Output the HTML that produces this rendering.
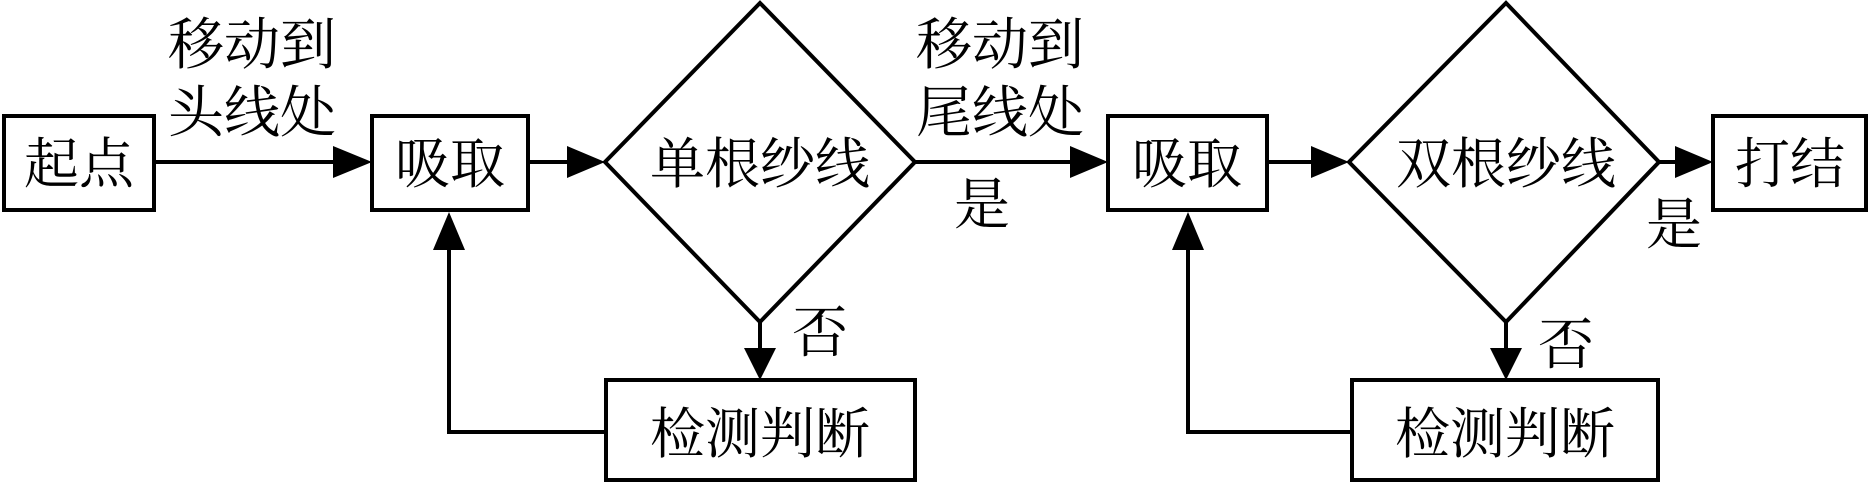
<!DOCTYPE html>
<html><head><meta charset="utf-8"><style>
body{margin:0;background:#fff;}
svg text{font-family:"Liberation Serif","Noto Serif CJK SC","Noto Sans CJK SC",serif;fill:#000;}
</style></head><body>
<svg width="1869" height="486" viewBox="0 0 1869 486" xmlns="http://www.w3.org/2000/svg">
<g fill="none" stroke="#000" stroke-width="4">
<rect x="4" y="116" width="150" height="94"/>
<rect x="372" y="116" width="156" height="94"/>
<polygon points="760,3 915,162 760,322 605,162"/>
<rect x="606" y="380" width="309" height="100"/>
<rect x="1108" y="116" width="159" height="94"/>
<polygon points="1506,3 1659,162 1506,322 1349,162"/>
<rect x="1713" y="116" width="153" height="94"/>
<rect x="1352" y="380" width="306" height="100"/>
<line x1="154" y1="162" x2="340" y2="162"/>
<line x1="528" y1="162" x2="575" y2="162"/>
<line x1="915" y1="162" x2="1078" y2="162"/>
<line x1="1267" y1="162" x2="1320" y2="162"/>
<line x1="1659" y1="162" x2="1684" y2="162"/>
<line x1="760" y1="322" x2="760" y2="350"/>
<line x1="1506" y1="322" x2="1506" y2="350"/>
<polyline points="606,432 449,432 449,245"/>
<polyline points="1352,432 1188,432 1188,245"/>
</g>
<g fill="#000">
<polygon points="333,146 372,162 333,178"/>
<polygon points="567,146 605,162 567,178"/>
<polygon points="1070,146 1108,162 1070,178"/>
<polygon points="1311,146 1349,162 1311,178"/>
<polygon points="1675,146 1713,162 1675,178"/>
<polygon points="744,348 760,380 776,348"/>
<polygon points="1490,348 1506,380 1522,348"/>
<polygon points="433,250 449,212 465,250"/>
<polygon points="1172,250 1188,212 1204,250"/>
</g>
<g font-size="55" text-anchor="middle">
<text x="79" y="183">起点</text>
<text x="450" y="183">吸取</text>
<text x="760" y="183">单根纱线</text>
<text x="760" y="453">检测判断</text>
<text x="1187" y="183">吸取</text>
<text x="1506" y="183">双根纱线</text>
<text x="1790" y="183">打结</text>
<text x="1505" y="453">检测判断</text>
</g>
<g font-size="56">
<text x="168" y="64">移动到</text>
<text x="168" y="132">头线处</text>
<text x="916" y="64">移动到</text>
<text x="916" y="132">尾线处</text>
<text x="954" y="224">是</text>
<text x="1646" y="244">是</text>
<text x="792" y="352">否</text>
<text x="1538" y="364">否</text>
</g>
</svg>
</body></html>
